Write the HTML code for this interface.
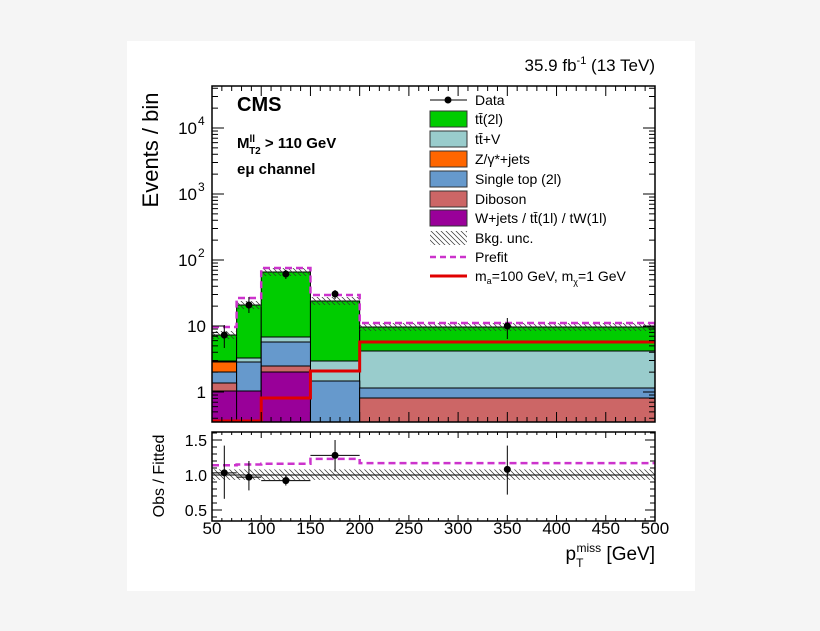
<!DOCTYPE html>
<html><head><meta charset="utf-8"><style>
html,body{margin:0;padding:0;background:#f5f5f5;}
svg{display:block;font-family:"Liberation Sans",sans-serif;}
</style></head><body>
<svg id="s" width="820" height="631" xmlns="http://www.w3.org/2000/svg">
<defs><pattern id="h" width="5" height="5" patternUnits="userSpaceOnUse"><path d="M-1,-1 L6,6 M-1,4 L1,6 M4,-1 L6,1" stroke="#333" stroke-width="0.7"/></pattern></defs>
<rect x="127" y="41" width="568" height="550" fill="#fff"/>
</svg>
<script>
const s=document.getElementById('s');let h='';
const X=v=>212+(v-50)*0.9844;
const bins=[[50,75],[75,100],[100,150],[150,200],[200,500]];
const layers=[
 ['#990099',[391,391,372,422,422]],
 ['#cc6666',[383,391,366,422,398]],
 ['#6699cc',[372,362,342,381,388]],
 ['#ff6600',[362,362,342,381,388]],
 ['#99cccc',[361,358,337,361,351]],
 ['#00cc00',[335,305,272,301,327]]];
for(let L=layers.length-1;L>=0;L--){const [c,t]=layers[L];
 bins.forEach((b,i)=>{if(t[i]<422)h+=`<rect x="${X(b[0])}" y="${t[i]}" width="${X(b[1])-X(b[0])}" height="${422-t[i]}" fill="${c}" stroke="#000" stroke-width="1"/>`;});}
bins.forEach((b,i)=>{const t=layers[5][1][i];h+=`<rect x="${X(b[0])}" y="${t-4}" width="${X(b[1])-X(b[0])}" height="8" fill="url(#h)"/>`;});
const pf=[327,298,268,295,323];let p='M'+X(50)+','+pf[0];
bins.forEach((b,i)=>{p+=` L${X(b[0])},${pf[i]} L${X(b[1])},${pf[i]}`;});
h+=`<path d="${p}" fill="none" stroke="#cc33cc" stroke-width="2.5" stroke-dasharray="7,4"/>`;
const sg=[421,421,398,371,342];p='M'+X(50)+','+sg[0];
bins.forEach((b,i)=>{p+=` L${X(b[0])},${sg[i]} L${X(b[1])},${sg[i]}`;});
h+=`<path d="${p}" fill="none" stroke="#e00000" stroke-width="3"/>`;
const d=[[62.5,335,325,348],[87.5,305,297,313],[125,274,270,279],[175,294,290,299],[350,326,318,339]];
d.forEach(q=>{h+=`<line x1="${X(q[0])}" x2="${X(q[0])}" y1="${q[2]}" y2="${q[3]}" stroke="#000"/><circle cx="${X(q[0])}" cy="${q[1]}" r="3.5"/>`;});
h+=`<rect x="212" y="86" width="443" height="336" fill="none" stroke="#000" stroke-width="1.5"/>`;
const Y=v=>392-66*Math.log10(v);
for(let e=-1;e<5;e++)for(let m=1;m<10;m++){const v=m*Math.pow(10,e);const y=Y(v);if(y<86||y>422)continue;const l=m==1?12:6;
 h+=`<line x1="212" x2="${212+l}" y1="${y}" y2="${y}" stroke="#000"/><line x1="655" x2="${655-l}" y1="${y}" y2="${y}" stroke="#000"/>`;}
for(let v=50;v<=500;v+=10){const x=X(v);const l=v%50==0?10:5;
 h+=`<line x1="${x}" x2="${x}" y1="86" y2="${86+l}" stroke="#000"/><line x1="${x}" x2="${x}" y1="422" y2="${422-l}" stroke="#000"/>`;
 h+=`<line x1="${x}" x2="${x}" y1="432" y2="${432+l*0.6}" stroke="#000"/><line x1="${x}" x2="${x}" y1="521" y2="${521-l*0.6}" stroke="#000"/>`;}
[[10,"10"],[1,"1"]].forEach(q=>{h+=`<text x="206" y="${Y(q[0])+6}" font-size="17" text-anchor="end">${q[1]}</text>`;});
[2,3,4].forEach(e=>{h+=`<text x="197" y="${Y(Math.pow(10,e))+6}" font-size="17" text-anchor="end">10</text><text x="198" y="${Y(Math.pow(10,e))-3}" font-size="12">${e}</text>`;});
const R=r=>475-70*(r-1);
h+=`<rect x="${X(50)}" y="${R(1.08)}" width="443" height="${R(0.93)-R(1.08)}" fill="url(#h)"/>`;
h+=`<line x1="212" x2="655" y1="${R(1)}" y2="${R(1)}" stroke="#000"/>`;
const rp=[1.14,1.15,1.16,1.23,1.17];p='M'+X(50)+','+R(rp[0]);
bins.forEach((b,i)=>{p+=` L${X(b[0])},${R(rp[i])} L${X(b[1])},${R(rp[i])}`;});
h+=`<path d="${p}" fill="none" stroke="#cc33cc" stroke-width="2.5" stroke-dasharray="7,4"/>`;
const rd=[[62.5,1.03,0.66,1.42,12.5],[87.5,0.97,0.78,1.2,12.5],[125,0.92,0.85,1.0,25],[175,1.28,1.05,1.5,25],[350,1.08,0.72,1.42,0]];
rd.forEach(q=>{const x=X(q[0]);h+=`<line x1="${x}" x2="${x}" y1="${R(q[2])}" y2="${R(q[3])}" stroke="#000"/>`;
 if(q[4])h+=`<line x1="${X(q[0]-q[4])}" x2="${X(q[0]+q[4])}" y1="${R(q[1])}" y2="${R(q[1])}" stroke="#000"/>`;
 h+=`<circle cx="${x}" cy="${R(q[1])}" r="3.5"/>`;});
for(let r=0.4;r<1.61;r+=0.1){const y=R(r);const big=Math.abs(r*2-Math.round(r*2))<0.01;const l=big?10:5;
 h+=`<line x1="212" x2="${212+l}" y1="${y}" y2="${y}" stroke="#000"/><line x1="655" x2="${655-l}" y1="${y}" y2="${y}" stroke="#000"/>`;}
h+=`<rect x="212" y="432" width="443" height="89" fill="none" stroke="#000" stroke-width="1.5"/>`;
[["1.5",1.5],["1.0",1],["0.5",0.5]].forEach(q=>{h+=`<text x="207" y="${R(q[1])+6}" font-size="16" text-anchor="end">${q[0]}</text>`;});
for(let v=50;v<=500;v+=50)h+=`<text x="${X(v)}" y="534" font-size="17" text-anchor="middle">${v}</text>`;
h+=`<text x="655" y="560" font-size="19" text-anchor="end">p<tspan font-size="12" dy="7">T</tspan><tspan font-size="12" dx="-7" dy="-15">miss</tspan><tspan dy="8"> [GeV]</tspan></text>`;
h+=`<text transform="translate(158,150) rotate(-90)" font-size="22" text-anchor="middle">Events / bin</text>`;
h+=`<text transform="translate(164,476) rotate(-90)" font-size="16" text-anchor="middle">Obs / Fitted</text>`;
h+=`<text x="655" y="71" font-size="17" text-anchor="end">35.9 fb<tspan font-size="11" dy="-7">-1</tspan><tspan dy="7"> (13 TeV)</tspan></text>`;
h+=`<text x="237" y="111" font-size="20" font-weight="bold">CMS</text>`;
h+=`<text x="237" y="148" font-size="15" font-weight="bold">M<tspan font-size="10" dy="-6">ll</tspan><tspan font-size="10" dx="-6" dy="12">T2</tspan><tspan dy="-6"> &gt; 110 GeV</tspan></text>`;
h+=`<text x="237" y="174" font-size="15" font-weight="bold">eμ channel</text>`;
const lg=[['Data',100,'d'],['tt̄(2l)',119,'#00cc00'],['tt̄+V',139,'#99cccc'],['Z/γ*+jets',159,'#ff6600'],['Single top (2l)',179,'#6699cc'],['Diboson',199,'#cc6666'],['W+jets / tt̄(1l) / tW(1l)',218,'#990099'],['Bkg. unc.',238,'h'],['Prefit',257,'p'],['m<tspan font-size="9" dy="3">a</tspan><tspan dy="-3">=100 GeV, m</tspan><tspan font-size="9" dy="4">χ</tspan><tspan dy="-4">=1 GeV</tspan>',276,'s']];
lg.forEach(q=>{const y=q[1];
 if(q[2]=='d')h+=`<line x1="430" x2="467" y1="${y}" y2="${y}" stroke="#000"/><circle cx="448" cy="${y}" r="3.5"/>`;
 else if(q[2]=='h')h+=`<rect x="430" y="${y-7}" width="37" height="14" fill="url(#h)"/>`;
 else if(q[2]=='p')h+=`<line x1="430" x2="467" y1="${y}" y2="${y}" stroke="#cc33cc" stroke-width="2.5" stroke-dasharray="6,4"/>`;
 else if(q[2]=='s')h+=`<line x1="430" x2="467" y1="${y}" y2="${y}" stroke="#e00000" stroke-width="3"/>`;
 else h+=`<rect x="430" y="${y-8}" width="37" height="16" fill="${q[2]}" stroke="#333"/>`;
 h+=`<text x="475" y="${y+5}" font-size="14">${q[0]}</text>`;});
s.insertAdjacentHTML('beforeend',h);
</script>
</body></html>
